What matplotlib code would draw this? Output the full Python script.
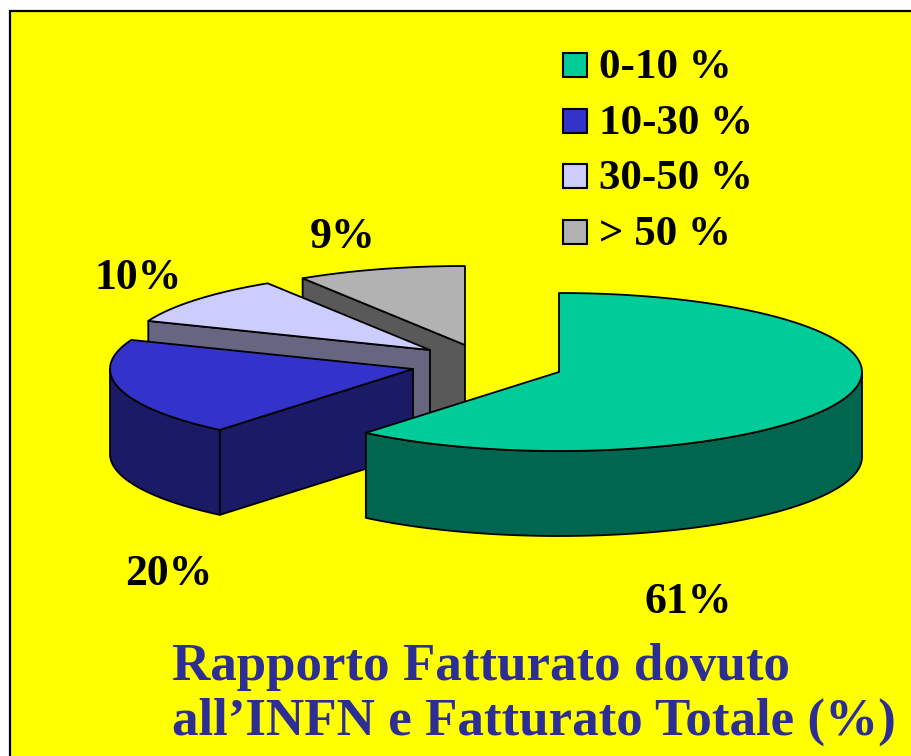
import numpy as np
import matplotlib
matplotlib.use("Agg")
import matplotlib.pyplot as plt
from matplotlib.patches import Polygon, Rectangle

# ---- data ----
categories = ['0-10 %', '10-30 %', '30-50 %', '> 50 %']
values = [61, 20, 10, 9]
value_labels = ['61%', '20%', '10%', '9%']
title_lines = ['Rapporto Fatturato dovuto', 'all\u2019INFN e Fatturato Totale (%)']

# ---- style / layout ----
top_colors = ['#00CC99', '#3333CC', '#CCCCFF', '#B2B2B2']
side_colors = ['#006650', '#1A1A66', '#666680', '#595959']
slice_centers = [(559, 372), (413, 369), (430, 350), (465, 345)]  # exploded apex positions
label_pos = [(688, 613), (169, 585), (138, 289), (343, 248)]
rx, ry, depth = 303, 79, 85
start_angle = 90
W, H = 912, 756
FONT = ['Liberation Serif', 'DejaVu Serif']

fig = plt.figure(figsize=(W / 100, H / 100), dpi=100)
fig.patch.set_facecolor('white')
ax = fig.add_axes([0, 0, 1, 1])
ax.set_xlim(0, W)
ax.set_ylim(H, 0)
ax.axis('off')

ax.add_patch(Rectangle((10.5, 10.5), W, H, facecolor='#FFFF00', edgecolor='black',
                       lw=1.6, zorder=0))


def pt(cx, cy, t):
    r = np.radians(t)
    return cx + rx * np.cos(r), cy - ry * np.sin(r)


def arc(cx, cy, t0, t1, n=120):
    t = np.radians(np.linspace(t0, t1, n))
    return np.column_stack([cx + rx * np.cos(t), cy - ry * np.sin(t)])


# angles (clockwise from start)
bounds = []
a = start_angle
for v in values:
    b = a - 360.0 * v / sum(values)
    bounds.append((a, b))
    a = b

z = 1
edge_kw = dict(edgecolor='black', lw=1.3, joinstyle='round')
for i in [3, 2, 1, 0]:
    cx, cy = slice_centers[i]
    a1, a2 = bounds[i]  # a1 > a2
    lo, hi = a2, a1
    # outer curved side (front half of ellipse)
    for flo, fhi in [(-180, 0), (180, 360)]:
        s0, s1 = max(lo, flo), min(hi, fhi)
        if s1 > s0:
            top = arc(cx, cy, s0, s1)
            bot = top[::-1] + np.array([0, depth])
            ax.add_patch(Polygon(np.vstack([top, bot]), closed=True,
                                 facecolor=side_colors[i], zorder=z, **edge_kw))
            z += 1
    # radial cut faces
    for ang, normal in [(a1, a1 + 90), (a2, a2 - 90)]:
        if np.sin(np.radians(normal)) < -1e-6:
            ex, ey = pt(cx, cy, ang)
            quad = [(cx, cy), (ex, ey), (ex, ey + depth), (cx, cy + depth)]
            ax.add_patch(Polygon(quad, closed=True, facecolor=side_colors[i],
                                 zorder=z, **edge_kw))
            z += 1
    # top face
    top = arc(cx, cy, a1, a2)
    ax.add_patch(Polygon(np.vstack([[cx, cy], top]), closed=True,
                         facecolor=top_colors[i], zorder=z, **edge_kw))
    z += 1

# value labels
for (x, y), lab in zip(label_pos, value_labels):
    ax.text(x, y, lab, ha='center', va='baseline', fontsize=31.5, fontweight='bold',
            family=FONT, color='black', zorder=50)

# legend
leg_x, leg_y0, leg_dy, box = 563, 53, 55.7, 24
for i, cat in enumerate(categories):
    y = leg_y0 + i * leg_dy
    ax.add_patch(Rectangle((leg_x, y), box, box, facecolor=top_colors[i],
                           edgecolor='black', lw=1.5, zorder=50))
    ax.text(599, y + box + 1, cat, ha='left', va='baseline', fontsize=31,
            fontweight='bold', family=FONT, color='black', zorder=50)

# title
for k, line in enumerate(title_lines):
    ax.text(172, 680 + 55 * k, line, ha='left', va='baseline', fontsize=38.2,
            fontweight='bold', family=FONT, color='#2D2D96', zorder=50)

fig.savefig('out.png', dpi=100, facecolor=fig.get_facecolor())
